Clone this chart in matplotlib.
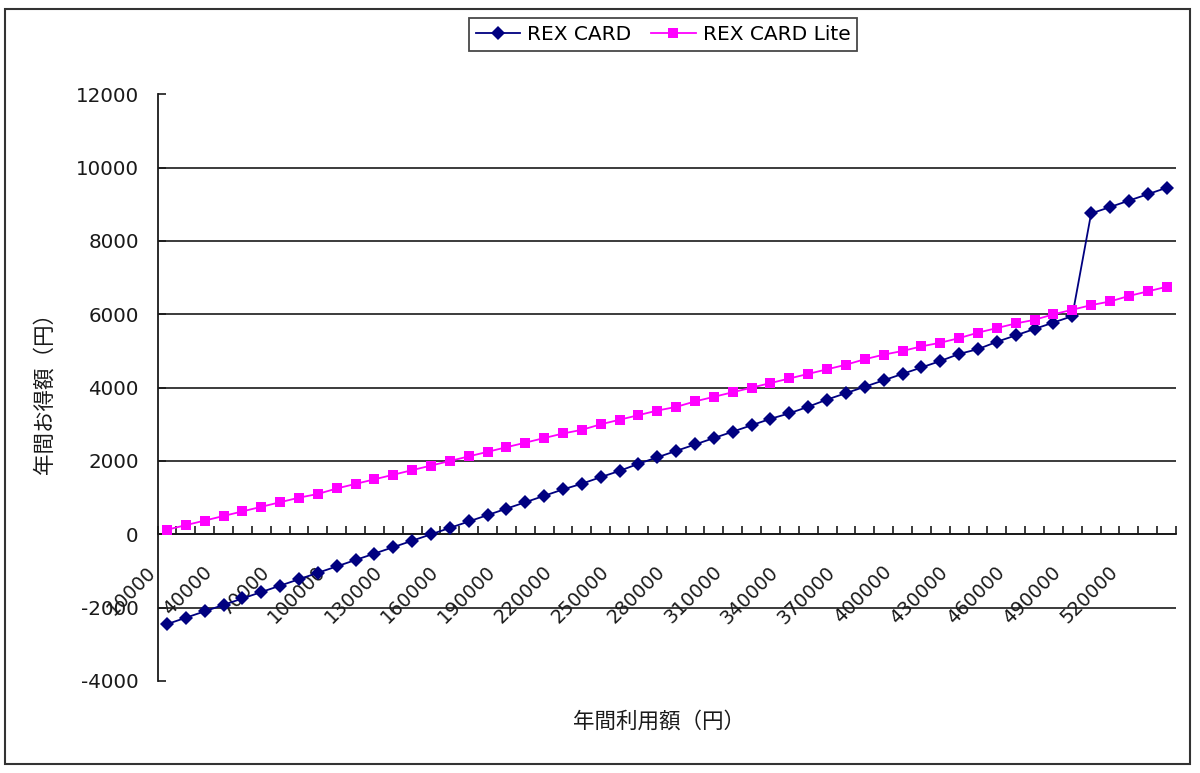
import matplotlib
matplotlib.use("Agg")
import matplotlib.pyplot as plt
import matplotlib.transforms as mtransforms
from matplotlib.patches import Rectangle

plt.rcParams['font.family'] = ['DejaVu Sans', 'Noto Sans CJK JP']

# ---- data ----
usage = [10000 * i for i in range(1, 55)]  # 10000 .. 540000 (category labels)
rex_card = [-2450, -2275, -2100, -1925, -1750, -1575, -1400, -1225, -1050, -875,
            -700, -525, -350, -175, 0, 175, 350, 525, 700, 875,
            1050, 1225, 1380, 1560, 1730, 1925, 2100, 2275, 2450, 2625,
            2800, 2975, 3150, 3300, 3480, 3675, 3850, 4025, 4200, 4375,
            4550, 4725, 4920, 5050, 5250, 5425, 5600, 5775, 5950, 8750,
            8925, 9100, 9275, 9450]
rex_lite = [125, 250, 375, 500, 625, 750, 875, 1000, 1100, 1250,
            1375, 1500, 1625, 1750, 1875, 2000, 2125, 2250, 2375, 2500,
            2625, 2750, 2850, 3000, 3125, 3250, 3375, 3475, 3625, 3750,
            3875, 4000, 4125, 4250, 4375, 4500, 4625, 4775, 4900, 5000,
            5125, 5225, 5350, 5500, 5625, 5750, 5850, 6000, 6125, 6250,
            6350, 6500, 6625, 6750]
series_names = ['REX CARD', 'REX CARD Lite']
y_ticks = [-4000, -2000, 0, 2000, 4000, 6000, 8000, 10000, 12000]
grid_vals = [-2000, 0, 2000, 4000, 6000, 8000, 10000]
x_label = '年間利用額（円）'
y_label = '年間お得額（円）'

W, H = 1200, 773
fig = plt.figure(figsize=(W / 100, H / 100), dpi=100)
ax = fig.add_axes([157.5 / W, 1 - 681 / H, (1176 - 157.5) / W, (681 - 94.3) / H])

cats = list(range(1, len(usage) + 1))

ax.set_xlim(0.5, len(usage) + 0.5)
ax.set_ylim(-4000, 12000)

ax.hlines(grid_vals, 0.5, len(usage) + 0.5, colors='#1a1a1a', linewidth=1.2, zorder=1)

ax.plot(cats, rex_card, color='#000080', linewidth=1.3, marker='D', markersize=6.8,
        markeredgewidth=0, label=series_names[0], zorder=3)
ax.plot(cats, rex_lite, color='#FF00FF', linewidth=1.3, marker='s', markersize=7,
        markeredgewidth=0, label=series_names[1], zorder=4)

for s in ['top', 'right']:
    ax.spines[s].set_visible(False)
ax.spines['bottom'].set_position(('data', 0))
ax.spines['left'].set_linewidth(1.3)
ax.spines['bottom'].set_linewidth(1.3)
ax.spines['left'].set_color('#1a1a1a')
ax.spines['bottom'].set_color('#1a1a1a')

ax.set_yticks(y_ticks)
ax.set_yticklabels([str(v) for v in y_ticks])
ax.tick_params(axis='y', direction='in', length=6, width=1.2, pad=13.5, labelsize=14.3,
               colors='#1a1a1a')

label_idx = list(range(0, len(usage), 3))
ax.set_xticks([cats[i] for i in label_idx])
ax.set_xticklabels([str(usage[i]) for i in label_idx])
ax.set_xticks([c + 0.5 for c in [0] + cats], minor=True)
ax.tick_params(axis='x', which='major', length=0, pad=25, labelsize=13.8,
               colors='#1a1a1a')
ax.tick_params(axis='x', which='minor', direction='in', length=6, width=1.2,
               color='#1a1a1a')
offset = mtransforms.ScaledTranslation(-14 / 100, 0, fig.dpi_scale_trans)
for lab in ax.get_xticklabels():
    lab.set_rotation(45)
    lab.set_ha('right')
    lab.set_va('center')
    lab.set_rotation_mode('anchor')
    lab.set_transform(lab.get_transform() + offset)

fig.text(659 / W, 1 - 722 / H, x_label, ha='center', va='center', fontsize=15.5,
         family=['Noto Sans CJK JP', 'DejaVu Sans'], color='#1a1a1a')
fig.text(45 / W, 1 - 388 / H, y_label, ha='center', va='center', rotation=90,
         fontsize=15.5, family=['Noto Sans CJK JP', 'DejaVu Sans'], color='#1a1a1a')

leg = fig.legend(loc='center', bbox_to_anchor=(663 / W, 1 - 34.5 / H), ncol=2,
                 fontsize=14.5, frameon=True, fancybox=False, handlelength=2.2,
                 handletextpad=0.35, columnspacing=1.0, borderpad=0.35,
                 borderaxespad=0)
leg.get_frame().set_edgecolor('#1a1a1a')
leg.get_frame().set_linewidth(1.3)

fig.patches.append(Rectangle((5 / W, 1 - 764 / H), (1190 - 5) / W, (764 - 9) / H,
                             transform=fig.transFigure, fill=False,
                             edgecolor='#333333', linewidth=1.5))

fig.savefig('out.png', dpi=100)
